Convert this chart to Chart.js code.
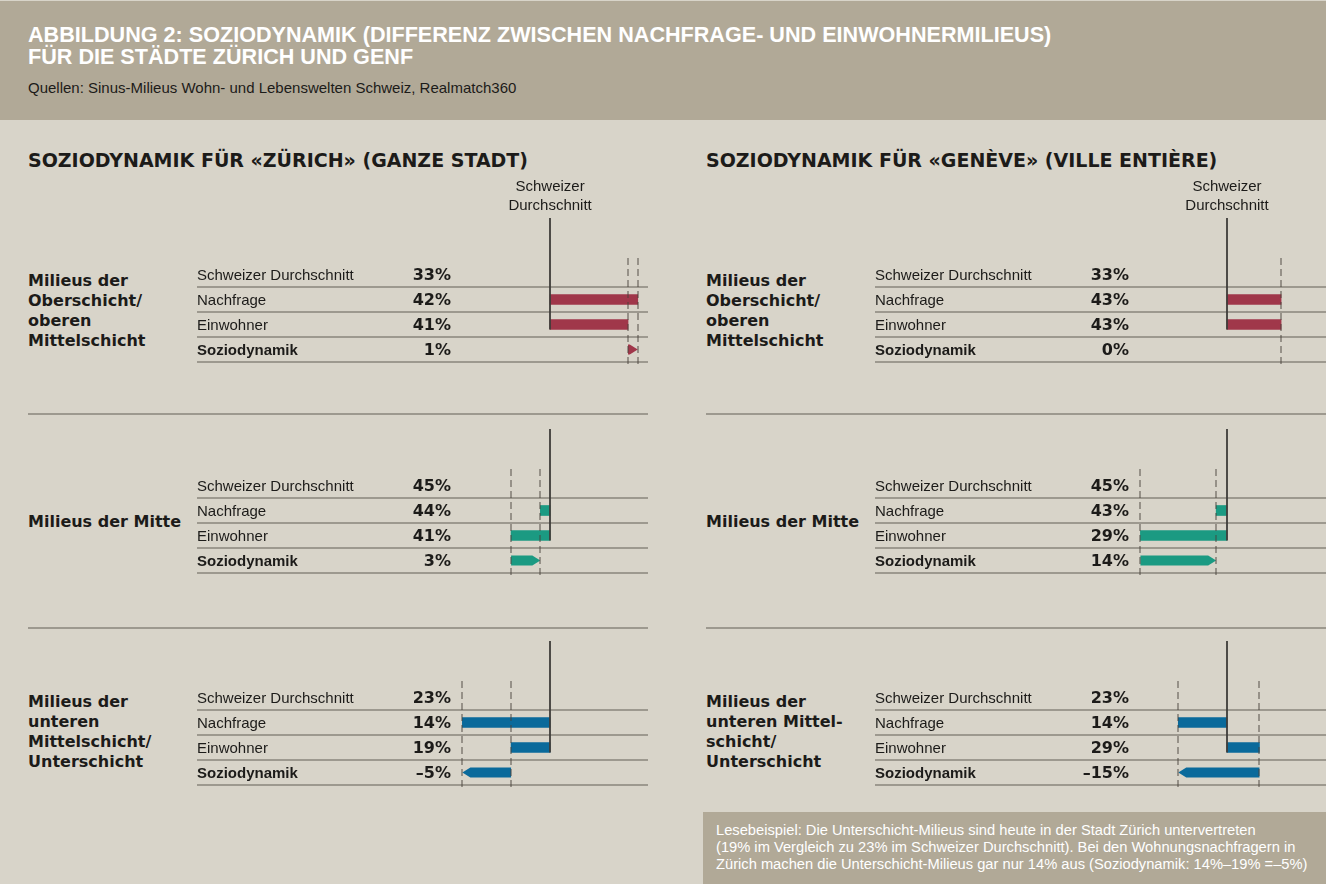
<!DOCTYPE html>
<html>
<head>
<meta charset="utf-8">
<script src="https://cdn.jsdelivr.net/npm/chart.js@4"></script>
<style>
  html, body { margin: 0; padding: 0; }
  body { width: 1326px; height: 884px; background: #d8d4c9; position: relative; overflow: hidden;
         font-family: "Liberation Sans", Arial, sans-serif; color: #1c1b19; }
  .header { position: absolute; left: 0; top: 1px; width: 1326px; height: 119px; background: #b1a997; }
  .header h1 { position: absolute; left: 28px; top: 23px; margin: 0; font-size: 21.6px; line-height: 22px;
               font-weight: bold; color: #fff; white-space: nowrap; }
  .header .src { position: absolute; left: 28px; top: 78px; font-size: 15px; color: #1c1b19; }
  .sec { position: absolute; top: 149px; font-family: "DejaVu Sans", sans-serif; font-weight: bold;
         font-size: 19px; line-height: 22px; white-space: nowrap; }
  .grp { position: absolute; font-family: "DejaVu Sans", sans-serif; font-weight: bold;
         font-size: 16px; line-height: 20px; }
  .sep { position: absolute; height: 2px; width: 620px; background: #9d998f; }
  canvas { position: absolute; }
  .note { position: absolute; left: 703px; top: 812px; width: 623px; height: 72px; background: #b1a997;
          color: #fff; font-size: 14.7px; line-height: 17px; box-sizing: border-box; padding: 10px 0 0 13px;
          white-space: nowrap; }
</style>
</head>
<body>
<div class="header">
  <h1>ABBILDUNG 2: SOZIODYNAMIK (DIFFERENZ ZWISCHEN NACHFRAGE- UND EINWOHNERMILIEUS)<br>FÜR DIE STÄDTE ZÜRICH UND GENF</h1>
  <div class="src">Quellen: Sinus-Milieus Wohn- und Lebenswelten Schweiz, Realmatch360</div>
</div>

<div class="sec" style="left:28px">SOZIODYNAMIK FÜR «ZÜRICH» (GANZE STADT)</div>
<div class="sec" style="left:706px">SOZIODYNAMIK FÜR «GENÈVE» (VILLE ENTIÈRE)</div>

<div class="grp" style="left:28px;top:271px">Milieus der<br>Oberschicht/<br>oberen<br>Mittelschicht</div>
<div class="grp" style="left:28px;top:512px">Milieus der Mitte</div>
<div class="grp" style="left:28px;top:692px">Milieus der<br>unteren<br>Mittelschicht/<br>Unterschicht</div>
<div class="grp" style="left:706px;top:271px">Milieus der<br>Oberschicht/<br>oberen<br>Mittelschicht</div>
<div class="grp" style="left:706px;top:512px">Milieus der Mitte</div>
<div class="grp" style="left:706px;top:692px">Milieus der<br>unteren Mittel-<br>schicht/<br>Unterschicht</div>

<div class="sep" style="left:28px;top:413px"></div>
<div class="sep" style="left:28px;top:627px"></div>
<div class="sep" style="left:706px;top:413px"></div>
<div class="sep" style="left:706px;top:627px"></div>

<canvas id="zh0" width="451" height="200" style="left:197px;top:172px"></canvas>
<canvas id="zh1" width="451" height="200" style="left:197px;top:383px"></canvas>
<canvas id="zh2" width="451" height="200" style="left:197px;top:595px"></canvas>
<canvas id="ge0" width="451" height="200" style="left:875px;top:172px"></canvas>
<canvas id="ge1" width="451" height="200" style="left:875px;top:383px"></canvas>
<canvas id="ge2" width="451" height="200" style="left:875px;top:595px"></canvas>

<div class="note">Lesebeispiel: Die Unterschicht-Milieus sind heute in der Stadt Zürich untervertreten<br>(19% im Vergleich zu 23% im Schweizer Durchschnitt). Bei den Wohnungsnachfragern in<br>Zürich machen die Unterschicht-Milieus gar nur 14% aus (Soziodynamik: 14%–19% =–5%)</div>

<script>
// rows of every block
const rowLabels = ['Schweizer Durchschnitt', 'Nachfrage', 'Einwohner', 'Soziodynamik'];
// milieu groups, top to bottom
const milieus = ['Oberschicht', 'Mitte', 'Unterschicht'];
const groupColors = ['#a0374a', '#1b9a82', '#0a6a9b'];

// shares in %
const swissAvg = [33, 45, 23];
const zurichNachfrage = [42, 44, 14];
const zurichEinwohner = [41, 41, 19];
const zurichSozio = [1, 3, -5];
const genfNachfrage = [43, 43, 14];
const genfEinwohner = [43, 29, 29];
const genfSozio = [0, 14, -15];

// x window around the Swiss average (percentage points below / above)
const zurichSpan = [9.55, 10.05];
const genfSpan = [17.0, 18.3];

const fmt = v => (v < 0 ? '–' + Math.abs(v) : v) + '%';

const rowsPlugin = {
  id: 'rows',
  beforeDatasetsDraw(chart, args, opts) {
    const { ctx, chartArea, scales: { x, y } } = chart;
    const half = (y.getPixelForValue(1) - y.getPixelForValue(0)) / 2;
    ctx.save();
    ctx.textBaseline = 'middle';
    rowLabels.forEach((lab, i) => {
      const yy = y.getPixelForValue(i);
      ctx.strokeStyle = '#9d998f';
      ctx.lineWidth = 2;
      ctx.beginPath();
      ctx.moveTo(0, Math.round(yy + half));
      ctx.lineTo(chart.width, Math.round(yy + half));
      ctx.stroke();
      ctx.fillStyle = '#1c1b19';
      ctx.textAlign = 'left';
      ctx.font = (i === 3 ? 'bold ' : '') + '15px "Liberation Sans"';
      ctx.fillText(lab, 0, yy + 1);
      ctx.textAlign = 'right';
      ctx.font = 'bold 16px "DejaVu Sans"';
      ctx.fillText(fmt(opts.values[i]), chartArea.left - 6, yy + 1);
    });
    if (opts.avgLabel) {
      const ax = x.getPixelForValue(opts.avg);
      ctx.textAlign = 'center';
      ctx.font = '15px "Liberation Sans"';
      ctx.fillText('Schweizer', ax, 15);
      ctx.fillText('Durchschnitt', ax, 34);
    }
    ctx.restore();
  },
  afterDatasetsDraw(chart, args, opts) {
    const { ctx, chartArea, scales: { x, y } } = chart;
    const el = chart.getDatasetMeta(0).data[3];
    const xs = x.getPixelForValue(opts.einwohner);
    const xe = x.getPixelForValue(opts.nachfrage);
    const h = el.height || 10;
    const cy = y.getPixelForValue(3);
    ctx.save();
    // soziodynamik arrow
    if (Math.abs(xe - xs) > 0.5) {
      const dir = xe > xs ? 1 : -1;
      const head = Math.min(8, Math.abs(xe - xs));
      const neck = xe - dir * head;
      ctx.fillStyle = opts.color;
      ctx.beginPath();
      ctx.moveTo(xs, cy - h / 2);
      ctx.lineTo(neck, cy - h / 2);
      ctx.lineTo(xe, cy);
      ctx.lineTo(neck, cy + h / 2);
      ctx.lineTo(xs, cy + h / 2);
      ctx.closePath();
      ctx.fill();
    }
    // dashed markers at Einwohner / Nachfrage
    ctx.strokeStyle = 'rgba(70,65,58,0.45)';
    ctx.lineWidth = 2;
    ctx.setLineDash([7, 4]);
    const marks = xs === xe ? [xs] : [xs, xe];
    marks.forEach(px => {
      ctx.beginPath();
      ctx.moveTo(Math.round(px), chartArea.top - 4);
      ctx.lineTo(Math.round(px), chartArea.bottom + 4);
      ctx.stroke();
    });
    // Swiss average line
    ctx.setLineDash([]);
    ctx.strokeStyle = 'rgba(62,60,56,0.9)';
    const ax = Math.round(x.getPixelForValue(opts.avg));
    ctx.beginPath();
    ctx.moveTo(ax, chartArea.top - 44);
    ctx.lineTo(ax, y.getPixelForValue(2) + h / 2);
    ctx.stroke();
    ctx.restore();
  }
};

function block(id, g, nach, ein, sozio, span) {
  const avg = swissAvg[g];
  const col = groupColors[g];
  new Chart(document.getElementById(id), {
    type: 'bar',
    data: {
      labels: rowLabels,
      datasets: [{
        label: milieus[g],
        data: [null, [avg, nach[g]], [avg, ein[g]], [ein[g], nach[g]]],
        backgroundColor: [col, col, col, 'rgba(0,0,0,0)'],
        barThickness: 10,
        borderWidth: 0,
        borderSkipped: false
      }]
    },
    options: {
      indexAxis: 'y',
      responsive: false,
      animation: false,
      events: [],
      layout: { padding: { left: 260, top: 90, bottom: 10, right: 0 } },
      scales: {
        x: { display: false, min: avg - span[0], max: avg + span[1] },
        y: { display: false }
      },
      plugins: {
        legend: { display: false },
        tooltip: { enabled: false },
        rows: {
          values: [avg, nach[g], ein[g], sozio[g]],
          avg: avg, nachfrage: nach[g], einwohner: ein[g],
          color: col, avgLabel: g === 0
        }
      }
    },
    plugins: [rowsPlugin]
  });
}

[0, 1, 2].forEach(g => {
  block('zh' + g, g, zurichNachfrage, zurichEinwohner, zurichSozio, zurichSpan);
  block('ge' + g, g, genfNachfrage, genfEinwohner, genfSozio, genfSpan);
});
</script>
</body>
</html>
